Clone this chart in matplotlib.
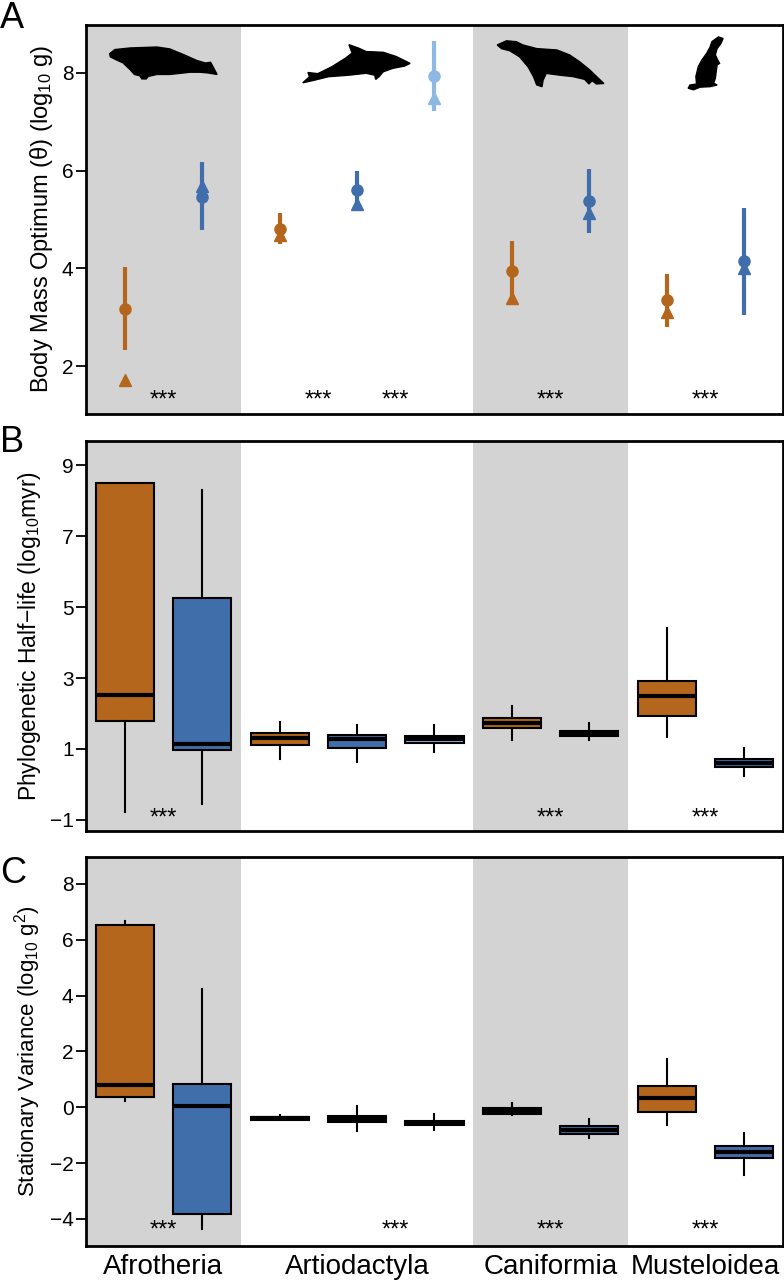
import numpy as np
import matplotlib
matplotlib.use('Agg')
import matplotlib.pyplot as plt
from matplotlib.patches import Polygon

plt.rcParams['font.family'] = ['Liberation Sans', 'DejaVu Sans']
plt.rcParams['mathtext.fontset'] = 'custom'
plt.rcParams['mathtext.rm'] = 'Liberation Sans'
plt.rcParams['mathtext.it'] = 'Liberation Sans:italic'

# data
clades = ['Afrotheria', 'Artiodactyla', 'Caniformia', 'Musteloidea']
clade_label_pos = [1.5, 4, 6.5, 8.5]
positions = [1, 2, 3, 4, 5, 6, 7, 8, 9]
groups = ['orange', 'blue', 'orange', 'blue', 'light', 'orange', 'blue', 'orange', 'blue']
shaded = [(0.5, 2.5), (5.5, 7.5)]

# panel A: body mass optimum, circle with interval, triangle
theta_circle = [3.17, 5.46, 4.81, 5.60, 7.94, 3.95, 5.38, 3.35, 4.14]
theta_low = [2.33, 4.79, 4.50, 5.20, 7.22, 3.36, 4.72, 2.80, 3.05]
theta_high = [4.03, 6.18, 5.13, 6.00, 8.65, 4.56, 6.03, 3.88, 5.24]
theta_tri = [1.72, 5.69, 4.68, 5.32, 7.49, 3.40, 5.13, 3.10, 4.00]

# panel B: phylogenetic half-life (whislo, q1, med, q3, whishi)
halflife = [
    (-0.77, 1.79, 2.52, 8.49, 8.49),
    (-0.55, 0.97, 1.14, 5.25, 8.30),
    (0.72, 1.11, 1.31, 1.45, 1.76),
    (0.63, 1.02, 1.28, 1.39, 1.67),
    (0.92, 1.17, 1.28, 1.37, 1.67),
    (1.25, 1.58, 1.73, 1.87, 2.20),
    (1.25, 1.37, 1.45, 1.51, 1.73),
    (1.34, 1.94, 2.50, 2.92, 4.41),
    (0.24, 0.49, 0.60, 0.72, 1.03),
]

# panel C: stationary variance (whislo, q1, med, q3, whishi)
statvar = [
    (0.22, 0.36, 0.79, 6.52, 6.67),
    (-4.37, -3.84, 0.04, 0.82, 4.23),
    (-0.46, -0.44, -0.40, -0.36, -0.28),
    (-0.86, -0.54, -0.42, -0.33, 0.04),
    (-0.82, -0.65, -0.57, -0.50, -0.25),
    (-0.29, -0.24, -0.14, -0.04, 0.14),
    (-1.11, -0.97, -0.82, -0.68, -0.43),
    (-0.65, -0.18, 0.32, 0.75, 1.72),
    (-2.44, -1.83, -1.61, -1.40, -0.93),
]

stars_A = [1.5, 3.5, 4.5, 6.5, 8.5]
stars_B = [1.5, 6.5, 8.5]
stars_C = [1.5, 4.5, 6.5, 8.5]

colors = {'orange': '#B4661C', 'blue': '#3F6EAB', 'light': '#8CB8E3'}

# silhouettes, rough outlines in a unit box
dugong = [(0, 0.79), (0.047, 0.92), (0.19, 0.97), (0.44, 1.0), (0.56, 0.94), (0.69, 0.76),
          (0.81, 0.58), (0.89, 0.5), (0.94, 0.52), (0.96, 0.40), (1.0, 0.14), (0.91, 0.19),
          (0.84, 0.21), (0.75, 0.21), (0.56, 0.14), (0.44, 0.14), (0.36, 0.08), (0.34, 0.0),
          (0.30, 0.0), (0.28, 0.10), (0.23, 0.14), (0.19, 0.29), (0.125, 0.5), (0.06, 0.6),
          (0.006, 0.69)]
dolphin = [(0, 0), (0.063, 0.16), (0.048, 0.27), (0.14, 0.24), (0.27, 0.42), (0.40, 0.65),
           (0.46, 0.78), (0.43, 1.0), (0.52, 0.91), (0.59, 0.82), (0.75, 0.80), (0.87, 0.69),
           (0.95, 0.58), (1.0, 0.51), (0.95, 0.44), (0.84, 0.38), (0.75, 0.29), (0.71, 0.16),
           (0.68, 0.09), (0.67, 0.20), (0.59, 0.25), (0.43, 0.20), (0.24, 0.16), (0.11, 0.07)]
sealion = [(0, 0.91), (0.0875, 1.0), (0.18, 0.98), (0.24, 0.91), (0.37, 0.83), (0.56, 0.80),
           (0.68, 0.69), (0.775, 0.54), (0.87, 0.36), (0.95, 0.18), (1.0, 0.07), (0.93, 0.06),
           (0.89, 0.13), (0.86, 0.06), (0.82, 0.16), (0.71, 0.22), (0.59, 0.25), (0.46, 0.29),
           (0.43, 0.14), (0.42, 0.0), (0.37, 0.04), (0.34, 0.22), (0.29, 0.43), (0.21, 0.65),
           (0.12, 0.78), (0.04, 0.83)]
ferret = [(0.68, 0.91), (0.87, 1.0), (1.0, 0.97), (0.94, 0.875), (0.83, 0.78), (0.78, 0.66),
          (0.85, 0.56), (0.90, 0.5), (0.83, 0.47), (0.81, 0.375), (0.78, 0.22), (0.73, 0.125),
          (0.83, 0.09), (0.63, 0.06), (0.34, 0.05), (0.15, 0.0), (0.0, 0.03), (0.05, 0.09),
          (0.24, 0.11), (0.22, 0.25), (0.29, 0.44), (0.39, 0.56), (0.53, 0.69), (0.63, 0.81)]
silhouettes = [dugong, dolphin, sealion, ferret]
sil_boxes = [(0.034, 0.188, 0.861, 0.943), (0.311, 0.465, 0.851, 0.949),
             (0.590, 0.743, 0.841, 0.959), (0.864, 0.914, 0.833, 0.969)]


def setup_axes(ax, ylim, yticks, ylabel, lsize):
    for a, b in shaded:
        ax.axvspan(a, b, color='#D3D3D3', lw=0, zorder=0)
    ax.set_xlim(0.5, 9.5)
    ax.set_ylim(*ylim)
    ax.set_yticks(yticks)
    ax.tick_params(axis='y', labelsize=15, length=7, width=1.3, pad=2)
    ax.set_ylabel(ylabel, fontsize=lsize, labelpad=5)
    for s in ax.spines.values():
        s.set_linewidth(2)


def draw_stars(ax, xs, frac):
    for x in xs:
        ax.text(x, frac, '***', transform=ax.get_xaxis_transform(),
                ha='center', va='center', fontsize=17)


def draw_boxes(ax, stats):
    bstats = []
    for s in stats:
        bstats.append({'whislo': s[0], 'q1': s[1], 'med': s[2], 'q3': s[3], 'whishi': s[4]})
    bp = ax.bxp(bstats, positions=positions, widths=0.75, patch_artist=True,
                showfliers=False, showcaps=False,
                boxprops=dict(linewidth=1.5, edgecolor='black'),
                whiskerprops=dict(linewidth=1.5, color='black'),
                medianprops=dict(linewidth=3, color='black', solid_capstyle='butt'))
    for patch, g in zip(bp['boxes'], groups):
        patch.set_facecolor(colors[g])
        patch.set_zorder(2)


fig = plt.figure(figsize=(7.84, 12.8), dpi=100)
axA = fig.add_axes([0.1097, 0.6766, 0.889, 0.304])
axB = fig.add_axes([0.1097, 0.3508, 0.889, 0.3047])
axC = fig.add_axes([0.1097, 0.0266, 0.889, 0.304])

# A
setup_axes(axA, (1.02, 8.98), [2, 4, 6, 8], 'Body Mass Optimum (\u03b8) (log$_{10}$ g)', 17)
for i, x in enumerate(positions):
    c = colors[groups[i]]
    axA.plot([x, x], [theta_low[i], theta_high[i]], color=c, lw=3, solid_capstyle='butt', zorder=2)
    axA.plot(x, theta_circle[i], 'o', color=c, ms=8, zorder=3)
    axA.plot(x, theta_tri[i], '^', color=c, ms=9, zorder=3)
draw_stars(axA, stars_A, 0.035)
for shape, (x0, x1, y0, y1) in zip(silhouettes, sil_boxes):
    pts = [(x0 + px * (x1 - x0), y0 + py * (y1 - y0)) for px, py in shape]
    axA.add_patch(Polygon(pts, closed=True, color='black', transform=axA.transAxes, zorder=4))

# B
setup_axes(axB, (-1.31, 9.68), [-1, 1, 3, 5, 7, 9],
           'Phylogenetic Half\u2212life (log$_{10}$myr)', 16.5)
draw_boxes(axB, halflife)
draw_stars(axB, stars_B, 0.032)

# C
setup_axes(axC, (-4.97, 8.97), [-4, -2, 0, 2, 4, 6, 8],
           'Stationary Variance (log$_{10}$ g$^2$)', 16)
draw_boxes(axC, statvar)
draw_stars(axC, stars_C, 0.04)

for ax in (axA, axB, axC):
    ax.set_xlim(0.5, 9.5)
    ax.set_xticks([])
axC.set_xticks(clade_label_pos)
axC.set_xticklabels(clades, fontsize=20)
axC.tick_params(axis='x', length=0, pad=6)

fig.text(0.0, 0.999, 'A', fontsize=26, ha='left', va='top')
fig.text(0.0, 0.668, 'B', fontsize=26, ha='left', va='top')
fig.text(0.0, 0.331, 'C', fontsize=26, ha='left', va='top')

plt.savefig('out.png', dpi=100)
